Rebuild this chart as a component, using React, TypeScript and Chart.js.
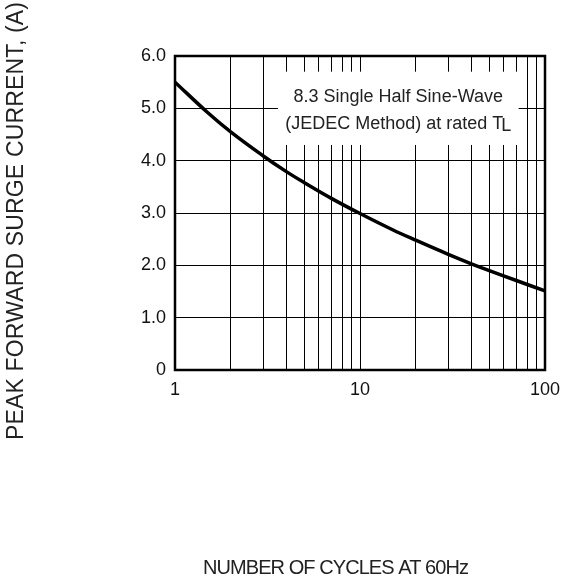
import React, { useEffect, useRef } from "react";
import { Chart, registerables } from "chart.js";

Chart.register(...registerables);

// Data
const cycles = [1, 1.5, 2, 3, 4, 5, 7, 10, 15, 20, 30, 40, 50, 70, 100];
const current = [5.5, 4.92, 4.55, 4.09, 3.79, 3.58, 3.28, 2.99, 2.68, 2.48, 2.21, 2.03, 1.9, 1.71, 1.51];

const xGridValues = [1, 2, 3, 4, 5, 6, 7, 8, 9, 10, 20, 30, 40, 50, 60, 70, 80, 90, 100];
const xTickLabels = [1, 10, 100];
const yTickValues = [0, 1, 2, 3, 4, 5, 6];

const xTitle = "NUMBER OF CYCLES AT 60Hz";
const yTitle = "PEAK FORWARD SURGE CURRENT, (A)";
const noteLine1 = "8.3 Single Half Sine-Wave";
const noteLine2 = "(JEDEC Method) at rated T";
const noteSub = "L";
// annotation box extent in data units
const noteX = [3.6, 72];
const noteY = [4.3, 5.7];
const noteLineY = [5.22, 4.7];

const FONT = "'Liberation Sans', Arial, Helvetica, sans-serif";

function drawSpaced(ctx: CanvasRenderingContext2D, text: string, x: number, y: number, size: number, target: number) {
  ctx.font = `${size}px ${FONT}`;
  (ctx as any).letterSpacing = "0px";
  const natural = ctx.measureText(text).width;
  const sp = (target - natural) / (text.length - 1);
  (ctx as any).letterSpacing = `${sp}px`;
  ctx.textAlign = "left";
  ctx.textBaseline = "middle";
  ctx.fillText(text, x - target / 2, y);
  (ctx as any).letterSpacing = "0px";
}

const decorPlugin = {
  id: "decor",
  beforeDatasetsDraw(chart: any) {
    const { ctx, scales } = chart;
    const xs = scales.x;
    const ys = scales.y;
    const l = xs.getPixelForValue(noteX[0]);
    const r = xs.getPixelForValue(noteX[1]);
    const t = ys.getPixelForValue(noteY[1]);
    const b = ys.getPixelForValue(noteY[0]);
    ctx.save();
    ctx.fillStyle = "#fff";
    ctx.fillRect(l, t, r - l, b - t);
    const cx = (l + r) / 2;
    ctx.fillStyle = "#222";
    ctx.font = `18px ${FONT}`;
    ctx.textAlign = "center";
    ctx.textBaseline = "middle";
    ctx.fillText(noteLine1, cx, ys.getPixelForValue(noteLineY[0]));
    const w2 = ctx.measureText(noteLine2).width;
    const wl = ctx.measureText(noteSub).width;
    const y2 = ys.getPixelForValue(noteLineY[1]);
    const start = cx - (w2 + wl - 2) / 2;
    ctx.textAlign = "left";
    ctx.fillText(noteLine2, start, y2);
    ctx.fillText(noteSub, start + w2 - 2, y2 + 2);
    ctx.restore();
  },
  afterDraw(chart: any) {
    const { ctx, chartArea } = chart;
    ctx.save();
    ctx.strokeStyle = "#000";
    ctx.lineWidth = 2.5;
    ctx.strokeRect(chartArea.left, chartArea.top, chartArea.right - chartArea.left, chartArea.bottom - chartArea.top);
    ctx.fillStyle = "#222";
    // x title
    drawSpaced(ctx, xTitle, 336, 568, 20, 266);
    // y title
    ctx.translate(17, 221);
    ctx.rotate(-Math.PI / 2);
    drawSpaced(ctx, yTitle, 0, 0, 23, 438);
    ctx.restore();
  },
};

export default function App() {
  const ref = useRef<HTMLCanvasElement>(null);
  useEffect(() => {
    if (!ref.current) return;
    const chart = new Chart(ref.current, {
      type: "line",
      data: {
        datasets: [
          {
            data: cycles.map((c, i) => ({ x: c, y: current[i] })),
            borderColor: "#000",
            borderWidth: 3.5,
            pointRadius: 0,
            tension: 0.4,
            fill: false,
          },
        ],
      },
      options: {
        animation: false,
        responsive: true,
        maintainAspectRatio: false,
        layout: { padding: { top: 56, right: 26, left: 0, bottom: 0 } },
        plugins: { legend: { display: false }, tooltip: { enabled: false } },
        scales: {
          x: {
            type: "logarithmic",
            min: 1,
            max: 100,
            afterBuildTicks: (s: any) => {
              s.ticks = xGridValues.map((v) => ({ value: v }));
            },
            afterFit: (s: any) => {
              s.height = 214;
            },
            border: { display: false },
            grid: { color: "#000", lineWidth: 1, drawTicks: false },
            ticks: {
              autoSkip: false,
              maxRotation: 0,
              padding: 9,
              color: "#111",
              font: { size: 18, family: FONT },
              callback: (v: any) => (xTickLabels.includes(Number(v)) ? String(v) : ""),
            },
          },
          y: {
            min: 0,
            max: 6,
            afterBuildTicks: (s: any) => {
              s.ticks = yTickValues.map((v) => ({ value: v }));
            },
            afterFit: (s: any) => {
              s.width = 175;
            },
            border: { display: false },
            grid: { color: "#000", lineWidth: 1, drawTicks: false },
            ticks: {
              padding: 9,
              color: "#111",
              font: { size: 18, family: FONT },
              callback: (v: any) => (Number(v) === 0 ? "0" : Number(v).toFixed(1)),
            },
          },
        },
      },
      plugins: [decorPlugin],
    });
    return () => chart.destroy();
  }, []);
  return (
    <div style={{ position: "fixed", left: 0, top: 0, width: 571, height: 584, background: "#fff" }}>
      <canvas ref={ref} />
    </div>
  );
}
